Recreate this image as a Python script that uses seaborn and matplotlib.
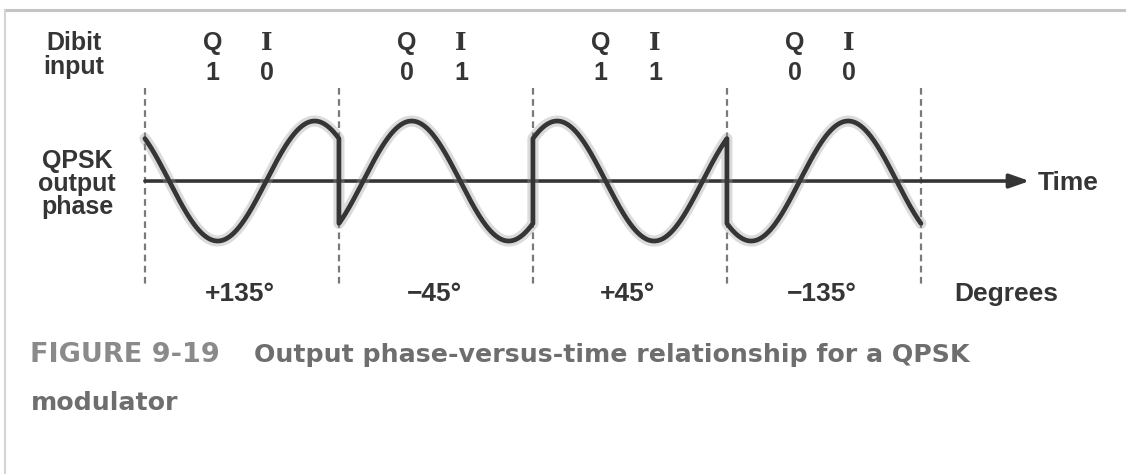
import numpy as np
import pandas as pd
import matplotlib
matplotlib.use("Agg")
import matplotlib.pyplot as plt
import seaborn as sns
from matplotlib.lines import Line2D

sns.set_theme(style="white")
plt.rcParams["font.family"] = ["Liberation Sans", "DejaVu Sans"]

# dados: um simbolo (dibit) por periodo da portadora
q_bits = [1, 0, 1, 0]
i_bits = [0, 1, 1, 0]
phases = [135, -45, 45, -135]  # graus
phase_labels = ["+135°", "\u221245°", "+45°", "\u2212135°"]

INK = "#353535"
GRAY = "#6e6e6e"

# forma de onda: sin(2*pi*t + fase) em cada simbolo
rows = []
for k, ph in enumerate(phases):
    t = np.linspace(k, k + 1, 240)
    v = np.sin(2 * np.pi * (t - k) + np.deg2rad(ph))
    rows.append(pd.DataFrame({"t": t, "v": v}))
wave = pd.concat(rows, ignore_index=True)

fig = plt.figure(figsize=(11.26, 4.74), dpi=100)
ax = fig.add_axes([0, 0, 1, 1])
ax.set_xlim(-0.747, 5.057)
ax.set_ylim(-4.883, 3.017)
ax.axis("off")

# linhas tracejadas nas fronteiras dos simbolos
for k in range(len(phases) + 1):
    ax.plot([k, k], [1.55, -1.78], color="#7a7a7a", lw=1.6,
            ls=(0, (3, 2)), zorder=1)

# eixo do tempo com seta
ax.annotate("", xy=(4.56, 0), xytext=(0, 0),
            arrowprops=dict(arrowstyle="-|>,head_length=1.0,head_width=0.35",
                            color=INK, lw=2.6, shrinkA=0, shrinkB=0),
            zorder=2)
ax.text(4.6, -0.04, "Time", ha="left", va="center", fontsize=19,
        fontweight="bold", color=INK)

# onda com leve "halo" de impressao
sns.lineplot(data=wave, x="t", y="v", ax=ax, sort=False, estimator=None,
             color="#9a9a9a", lw=8, alpha=0.35, legend=False, zorder=3)
sns.lineplot(data=wave, x="t", y="v", ax=ax, sort=False, estimator=None,
             color=INK, lw=3.4, legend=False, zorder=4)

# rotulos de dibit e fase
for k in range(len(phases)):
    ax.text(k + 0.35, 2.30, "Q", ha="center", va="center", fontsize=18,
            fontweight="bold", color=INK)
    ax.text(k + 0.63, 2.30, "I", ha="center", va="center", fontsize=18,
            fontweight="bold", color=INK, family="DejaVu Serif")
    ax.text(k + 0.35, 1.80, str(q_bits[k]), ha="center", va="center",
            fontsize=18, fontweight="bold", color=INK)
    ax.text(k + 0.63, 1.80, str(i_bits[k]), ha="center", va="center",
            fontsize=18, fontweight="bold", color=INK)
    ax.text(k + 0.49, -1.88, phase_labels[k], ha="center", va="center",
            fontsize=19, fontweight="bold", color=INK)

ax.text(4.44, -1.88, "Degrees", ha="center", va="center", fontsize=19,
        fontweight="bold", color=INK)
ax.text(-0.366, 2.10, "Dibit\ninput", ha="center", va="center", fontsize=18,
        fontweight="bold", color=INK, linespacing=0.95)
ax.text(-0.35, -0.05, "QPSK\noutput\nphase", ha="center", va="center",
        fontsize=18, fontweight="bold", color=INK, linespacing=0.97)

# legenda da figura
fig.text(0.027, 0.251, "FIGURE 9-19", ha="left", va="center", fontsize=19.5,
         fontweight="bold", color="#8a8a8a", family="DejaVu Sans")
fig.text(0.226, 0.251, "Output phase-versus-time relationship for a QPSK",
         ha="left", va="center", fontsize=18.2, fontweight="bold",
         color=GRAY, family="DejaVu Sans")
fig.text(0.027, 0.150, "modulator", ha="left", va="center", fontsize=18.2,
         fontweight="bold", color=GRAY, family="DejaVu Sans")

# moldura cinza (topo e esquerda)
fig.add_artist(Line2D([0.0045, 1.0], [0.979, 0.979], color="#c4c4c4", lw=2.2,
                      transform=fig.transFigure))
fig.add_artist(Line2D([0.0045, 0.0045], [0.0, 0.979], color="#d4d4d4", lw=1.5,
                      transform=fig.transFigure))

fig.savefig("out.png", dpi=100)
